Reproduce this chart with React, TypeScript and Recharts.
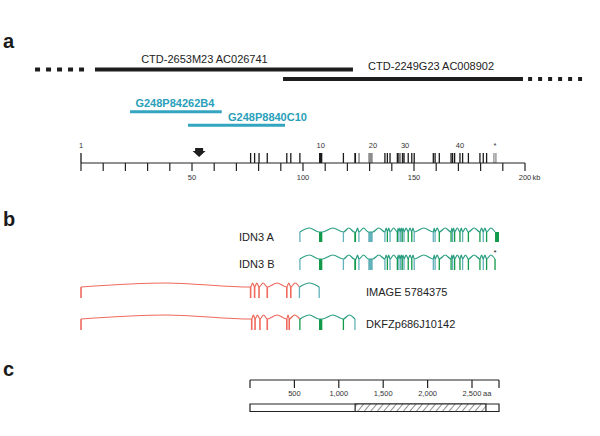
import React from "react";
import {
  ComposedChart,
  XAxis,
  YAxis,
  Line,
  ReferenceLine,
  ReferenceArea,
  ReferenceDot,
} from "recharts";

type Tone = "k" | "g" | "G" | "t" | "r";
type Exon = [number, number, Tone];

// genomic scale (kb), shared by panels a and b
const KB_TICKS = [0, 10, 20, 30, 40, 50, 60, 70, 80, 90, 100, 110, 120, 130, 140, 150, 160, 170, 180, 190, 200];
const KB_LABELLED = [50, 100, 150, 200];

const CLONE_NAMES = ["CTD-2653M23 AC026741", "CTD-2249G23 AC008902"];
const CLONE_SOLID: [number, number][] = [[6.3, 122.5], [91, 199.1]];
const CLONE_DASHED: [number, number][] = [[-20.7, 3.2], [201.4, 225.7]];
const CLONE_LABEL_KB = [55.6, 157.7];

const PROBE_NAMES = ["G248P84262B4", "G248P8840C10"];
const PROBE_SPANS: [number, number][] = [[22.1, 63.4], [48.2, 91.9]];
const PROBE_LABEL_KB = [42.3, 84];

const ARROW_KB = 53.2;

const GENOMIC_EXONS: Exon[] = [
  [0, 0, "k"], [76.4, 76.4, "k"], [78.2, 78.2, "k"], [80.2, 80.2, "k"], [83.9, 83.9, "k"],
  [92.7, 92.7, "k"], [94.5, 94.5, "k"], [98.6, 98.6, "k"], [107.2, 108.7, "k"], [118.2, 118.2, "k"],
  [123.1, 123.9, "k"], [124.9, 125.6, "g"], [129.4, 131.4, "g"], [136.9, 136.9, "k"], [138.0, 138.0, "k"],
  [139.2, 139.2, "k"], [142.5, 142.5, "k"], [143.2, 143.2, "k"], [144.0, 144.4, "g"], [144.9, 144.9, "k"],
  [145.5, 145.5, "k"], [147.4, 147.4, "k"], [149.0, 149.0, "k"], [150.1, 150.1, "k"], [158.7, 158.7, "k"],
  [159.5, 159.5, "k"], [161.4, 161.4, "k"], [166.7, 166.7, "k"], [167.4, 167.4, "k"], [168.3, 168.3, "k"],
  [170.7, 170.7, "k"], [171.9, 171.9, "k"], [174.5, 174.5, "k"], [179.7, 179.7, "k"], [181.2, 181.2, "k"],
  [182.7, 182.7, "k"], [186.0, 186.0, "g"], [186.9, 186.9, "g"],
];
const EXON_NUMBERS = ["1", "10", "20", "30", "40", "*"];
const EXON_NUMBER_KB = [0, 108, 131.5, 146, 170.7, 186.5];

// panel b transcripts (same kb scale)
const TRANSCRIPT_NAMES = ["IDN3 A", "IDN3 B", "IMAGE 5784375", "DKFZp686J10142"];
const TRANSCRIPT_LABEL_KB = [71.2, 71.2, 128.4, 128.4];

const IDN3_A: Exon[] = [
  [98.6, 98.6, "t"], [107.2, 108.7, "G"], [118.2, 118.2, "t"], [123.1, 123.9, "G"], [125.2, 125.2, "t"],
  [129.4, 131.4, "t"], [136.9, 136.9, "t"], [138.0, 138.0, "G"], [139.2, 139.2, "t"], [142.5, 142.5, "G"],
  [143.2, 143.2, "t"], [144.0, 144.0, "t"], [144.7, 144.7, "G"], [145.5, 145.5, "t"], [147.4, 147.4, "G"],
  [149.0, 149.0, "G"], [150.1, 150.1, "t"], [158.7, 158.7, "t"], [159.5, 159.5, "t"], [161.4, 161.4, "G"],
  [166.7, 166.7, "G"], [167.4, 167.4, "t"], [168.3, 168.3, "G"], [170.7, 170.7, "G"], [171.9, 171.9, "t"],
  [174.5, 174.5, "G"], [179.7, 179.7, "G"], [181.2, 181.2, "t"], [182.7, 182.7, "G"], [186.5, 188.3, "G"],
];
const IDN3_B: Exon[] = [...IDN3_A.slice(0, -1), [186.5, 186.5, "G"]];
const IMAGE_5784375: Exon[] = [
  [0, 0, "r"], [76.4, 76.4, "r"], [78.2, 78.2, "r"], [80.2, 80.2, "r"], [83.9, 83.9, "r"],
  [92.7, 92.7, "r"], [94.5, 94.5, "r"], [98.4, 98.4, "t"], [107.3, 107.3, "t"],
];
const DKFZP686J10142: Exon[] = [
  [0, 0, "r"], [76.9, 76.9, "r"], [78.4, 78.4, "r"], [80.6, 80.6, "r"], [83.9, 83.9, "r"],
  [92.7, 92.7, "r"], [93.8, 93.8, "r"], [98.6, 98.6, "G"], [107.2, 108.7, "G"], [118.2, 118.2, "G"],
  [123.4, 123.4, "t"],
];
const STAR_KB = 186.5;

// panel c protein scale (aa)
const AA_TICKS = [0, 500, 1000, 1500, 2000, 2500, 2804];
const AA_LABELLED = [500, 1000, 1500, 2000, 2500];
const PROTEIN_LENGTH = 2804;
const HATCHED_AA: [number, number] = [1184, 2657];

const TONE_COLOR: Record<Tone, string> = {
  k: "#1b1b1b",
  g: "#8c8c8c",
  G: "#129a4a",
  t: "#62b1bb",
  r: "#ee6a5d",
};
const RED = "#ee6a5d";
const TEAL = "#2c9f82";
const CYAN = "#34a5c0";
const INK = "#222";

// layout rows (page pixels)
const ROWS = [
  { rows: IDN3_A, top: 232, bottom: 242, labelY: 237.5 },
  { rows: IDN3_B, top: 259, bottom: 270, labelY: 264 },
  { rows: IMAGE_5784375, top: 287, bottom: 298, labelY: 292 },
  { rows: DKFZP686J10142, top: 319, bottom: 330, labelY: 324 },
];

function exonMarks(exons: Exon[], y1: number, y2: number, key: string) {
  return exons.map(([s, e, tone], i) =>
    e - s < 0.6 ? (
      <ReferenceLine
        key={`${key}${i}`}
        segment={[{ x: s, y: y1 }, { x: s, y: y2 }]}
        stroke={TONE_COLOR[tone]}
        strokeWidth={tone === "r" ? 1.6 : 1.3}
        ifOverflow="visible"
      />
    ) : (
      <ReferenceArea
        key={`${key}${i}`}
        x1={s}
        x2={e}
        y1={y1}
        y2={y2}
        fill={TONE_COLOR[tone]}
        fillOpacity={1}
        stroke="none"
        ifOverflow="visible"
      />
    )
  );
}

function archRuns(exons: Exon[], top: number, peak: number) {
  const runs: { red: boolean; pts: { x: number; y: number }[] }[] = [];
  for (let i = 0; i < exons.length - 1; i++) {
    const red = exons[i][2] === "r";
    const a = exons[i][1];
    const b = exons[i + 1][0];
    let run = runs[runs.length - 1];
    if (!run || run.red !== red) {
      run = { red, pts: [] };
      runs.push(run);
    }
    const last = run.pts[run.pts.length - 1];
    if (!last || last.x !== a) run.pts.push({ x: a, y: top });
    run.pts.push({ x: (a + b) / 2, y: peak }, { x: b, y: top });
  }
  return runs;
}

function textDot(key: string, x: number, y: number, value: string, opts: any = {}) {
  return (
    <ReferenceDot
      key={key}
      x={x}
      y={y}
      r={0}
      fill="none"
      stroke="none"
      ifOverflow="visible"
      label={{ value, position: "center", fontSize: 11, fill: INK, ...opts }}
    />
  );
}

const KbTick = (props: any) => {
  const { x, y, payload } = props;
  const v = payload.value;
  if (!KB_LABELLED.includes(v)) return <g />;
  return (
    <g fontSize={7.5} fill="#333">
      <text x={x} y={y} dy="0.71em" textAnchor="middle">{v}</text>
      {v === 200 && <text x={x + 7.5} y={y} dy="0.71em" textAnchor="start">kb</text>}
    </g>
  );
};

const AaTick = (props: any) => {
  const { x, y, payload } = props;
  const v = payload.value;
  if (!AA_LABELLED.includes(v)) return <g />;
  return (
    <g fontSize={7.5} fill="#333">
      <text x={x} y={y} dy="0.71em" textAnchor="middle">{v.toLocaleString("en-US")}</text>
      {v === 2500 && <text x={x + 11} y={y} dy="0.71em" textAnchor="start">aa</text>}
    </g>
  );
};

const Arrow = (props: any) => {
  const { cx, cy } = props;
  const pts = [
    [cx - 4, cy - 4], [cx + 4, cy - 4], [cx + 4, cy - 1], [cx + 6.5, cy - 1],
    [cx, cy + 5], [cx - 6.5, cy - 1], [cx - 4, cy - 1],
  ].map((p) => p.join(",")).join(" ");
  return <polygon points={pts} fill="#1e1e1e" />;
};

const Letter = ({ ch, top }: { ch: string; top: number }) => (
  <div style={{ position: "absolute", left: 3, top, fontSize: 20, fontWeight: 700, lineHeight: 1, color: "#1a1a1a" }}>
    {ch}
  </div>
);

export default function App() {
  return (
    <div
      style={{
        position: "relative",
        width: 600,
        height: 436,
        background: "#fff",
        overflow: "hidden",
        fontFamily: "'Liberation Sans', Arial, sans-serif",
      }}
    >
      <style>{"body{margin:0}"}</style>
      <svg width={0} height={0} style={{ position: "absolute" }}>
        <defs>
          <pattern id="hatch" width={5} height={5} patternUnits="userSpaceOnUse" patternTransform="rotate(40)">
            <rect width={5} height={5} fill="#fff" />
            <line x1={0} y1={0} x2={0} y2={5} stroke={INK} strokeWidth={1} />
          </pattern>
        </defs>
      </svg>

      <Letter ch="a" top={31} />
      <Letter ch="b" top={209} />
      <Letter ch="c" top={359} />

      {/* panel a */}
      <div style={{ position: "absolute", left: 0, top: 0 }}>
        <ComposedChart width={600} height={190} margin={{ top: 0, right: 75, bottom: 0, left: 81 }}>
          <XAxis
            type="number"
            dataKey="x"
            domain={[0, 200]}
            allowDataOverflow
            ticks={KB_TICKS}
            interval={0}
            height={27}
            tickSize={8}
            tickMargin={4}
            axisLine={{ stroke: INK, strokeWidth: 1.2 }}
            tickLine={{ stroke: INK, strokeWidth: 1.2 }}
            tick={(p: any) => <KbTick {...p} />}
          />
          <YAxis type="number" domain={[0, 163]} reversed allowDataOverflow hide />

          {CLONE_SOLID.map(([a, b], i) => (
            <ReferenceLine
              key={`cs${i}`}
              segment={[{ x: a, y: i === 0 ? 69.5 : 79 }, { x: b, y: i === 0 ? 69.5 : 79 }]}
              stroke="#1d1d1d"
              strokeWidth={4}
              ifOverflow="visible"
            />
          ))}
          {CLONE_DASHED.map(([a, b], i) => (
            <ReferenceLine
              key={`cd${i}`}
              segment={[{ x: a, y: i === 0 ? 69.5 : 79 }, { x: b, y: i === 0 ? 69.5 : 79 }]}
              stroke="#1d1d1d"
              strokeWidth={4}
              strokeDasharray={i === 0 ? "5 6" : "4 6"}
              ifOverflow="visible"
            />
          ))}
          {CLONE_NAMES.map((n, i) => textDot(`cl${i}`, CLONE_LABEL_KB[i], i === 0 ? 59.2 : 66.5, n))}

          {PROBE_SPANS.map(([a, b], i) => (
            <ReferenceLine
              key={`pr${i}`}
              segment={[{ x: a, y: i === 0 ? 111.7 : 125.3 }, { x: b, y: i === 0 ? 111.7 : 125.3 }]}
              stroke={CYAN}
              strokeWidth={3}
              ifOverflow="visible"
            />
          ))}
          {PROBE_NAMES.map((n, i) =>
            textDot(`pl${i}`, PROBE_LABEL_KB[i], i === 0 ? 102.8 : 117.5, n, { fill: "#2a9fba", fontWeight: 600 })
          )}

          <ReferenceDot x={ARROW_KB} y={152} r={6} ifOverflow="visible" shape={(p: any) => <Arrow {...p} />} />

          {exonMarks(GENOMIC_EXONS, 153, 163, "ge")}
          {EXON_NUMBERS.map((n, i) => textDot(`en${i}`, EXON_NUMBER_KB[i], 145, n, { fontSize: 7.5, fill: "#333" }))}
        </ComposedChart>
      </div>

      {/* panel b */}
      <div style={{ position: "absolute", left: 0, top: 200 }}>
        <ComposedChart width={600} height={140} margin={{ top: 0, right: 75, bottom: 0, left: 81 }}>
          <XAxis type="number" dataKey="x" domain={[0, 200]} hide />
          <YAxis type="number" domain={[200, 340]} reversed allowDataOverflow hide />
          {ROWS.map((row, ri) =>
            archRuns(row.rows, row.top, row.top - 4).map((run, i) => (
              <Line
                key={`ar${ri}-${i}`}
                data={run.pts}
                dataKey="y"
                type="monotone"
                stroke={run.red ? RED : TEAL}
                strokeWidth={1.2}
                dot={false}
                activeDot={false}
                isAnimationActive={false}
              />
            ))
          )}
          {ROWS.map((row, ri) => exonMarks(row.rows, row.top, row.bottom, `ex${ri}-`))}
          {TRANSCRIPT_NAMES.map((n, i) =>
            textDot(`tn${i}`, TRANSCRIPT_LABEL_KB[i], ROWS[i].labelY, n, { position: "right", offset: 0 })
          )}
          {textDot("star", STAR_KB, 252, "*", { fontSize: 8 })}
        </ComposedChart>
      </div>

      {/* panel c */}
      <div style={{ position: "absolute", left: 0, top: 370 }}>
        <ComposedChart width={600} height={50} margin={{ top: 10, right: 101, bottom: 0, left: 250 }}>
          <XAxis
            type="number"
            dataKey="x"
            orientation="top"
            mirror
            domain={[0, PROTEIN_LENGTH]}
            allowDataOverflow
            ticks={AA_TICKS}
            interval={0}
            tickSize={8}
            tickMargin={3}
            axisLine={{ stroke: INK, strokeWidth: 1.2 }}
            tickLine={{ stroke: INK, strokeWidth: 1.2 }}
            tick={(p: any) => <AaTick {...p} />}
          />
          <YAxis type="number" domain={[380, 420]} reversed allowDataOverflow hide />
          <ReferenceArea
            x1={0}
            x2={PROTEIN_LENGTH}
            y1={404}
            y2={411.5}
            fill="#fff"
            fillOpacity={1}
            stroke={INK}
            strokeWidth={1.2}
            ifOverflow="visible"
          />
          <ReferenceArea
            x1={HATCHED_AA[0]}
            x2={HATCHED_AA[1]}
            y1={404}
            y2={411.5}
            fill="url(#hatch)"
            fillOpacity={1}
            stroke={INK}
            strokeWidth={1.2}
            ifOverflow="visible"
          />
        </ComposedChart>
      </div>
    </div>
  );
}
